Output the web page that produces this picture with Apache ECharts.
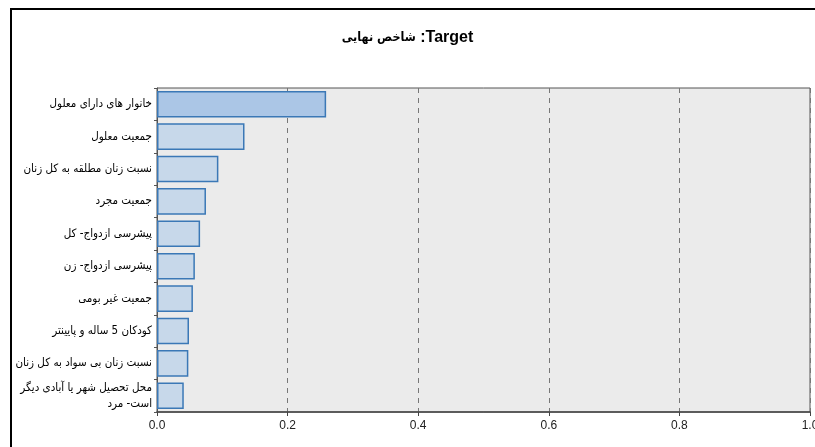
<!DOCTYPE html>
<html>
<head>
<meta charset="utf-8">
<script src="https://cdn.jsdelivr.net/npm/echarts@6/dist/echarts.min.js"></script>
<style>
html,body{margin:0;padding:0;background:#fff;overflow:hidden;}
#frame{position:absolute;left:10px;top:8px;width:805px;height:439px;border-top:2px solid #000;border-left:2px solid #000;box-sizing:border-box;}
#chart{position:absolute;left:0;top:0;width:815px;height:447px;}
</style>
</head>
<body>
<div id="frame"></div>
<div id="chart"></div>
<script>
const titleArabic = 'شاخص نهایی';
const titleLatin = 'Target';
const categories = [
  'خانوار های دارای معلول',
  'جمعیت معلول',
  'نسبت زنان مطلقه به کل زنان',
  'جمعیت مجرد',
  'پیشرسی ازدواج- کل',
  'پیشرسی ازدواج- زن',
  'جمعیت غیر بومی',
  'کودکان 5 ساله و پایینتر',
  'نسبت زنان بی سواد به کل زنان',
  'محل تحصیل شهر یا آبادی دیگر\nاست- مرد'
];
const importance = [0.259, 0.134, 0.094, 0.075, 0.066, 0.058, 0.055, 0.049, 0.048, 0.041];

const latinFont = {fontFamily: 'Liberation Sans, Arial', fontSize: 16, fontWeight: 'bold', color: '#000'};
const arabicFont = {fontFamily: 'DejaVu Sans Condensed, DejaVu Sans', fontSize: 12.5, fontWeight: 'bold', color: '#000'};
const chart = echarts.init(document.getElementById('chart'));
chart.setOption({
  animation: false,
  title: {
    text: '{a|' + titleArabic + '}{s| }{b|:}{b|' + titleLatin + '}',
    left: 'center',
    top: 25,
    textStyle: Object.assign({}, latinFont, {rich: {a: arabicFont, s: latinFont, b: latinFont}})
  },
  grid: {
    left: 157, right: 5, top: 88, bottom: 35,
    outerBoundsMode: 'none',
    containLabel: false,
    show: true, backgroundColor: '#ebebeb', borderColor: '#555', borderWidth: 1
  },
  xAxis: {
    type: 'value', min: 0, max: 1, interval: 0.2,
    axisLine: {show: true, lineStyle: {color: '#444', width: 1.5}},
    axisTick: {show: true, length: 4, lineStyle: {color: '#444'}},
    axisLabel: {
      color: '#222', fontSize: 12, margin: 8,
      fontFamily: 'Liberation Sans Narrow, Liberation Sans, Arial',
      formatter: v => v.toFixed(1)
    },
    splitLine: {show: true, lineStyle: {color: '#777', type: [5, 5], width: 1}}
  },
  yAxis: {
    type: 'category', data: categories, inverse: true,
    axisLine: {show: true, lineStyle: {color: '#555'}},
    axisTick: {show: true, length: 3, lineStyle: {color: '#555'}},
    axisLabel: {
      color: '#000', fontSize: 11.5, margin: 5, lineHeight: 16,
      fontFamily: 'DejaVu Sans Condensed, Noto Sans, Arial'
    }
  },
  series: [{
    type: 'bar',
    barCategoryGap: '18%',
    data: importance.map((v, i) => ({
      value: v,
      itemStyle: {color: i === 0 ? '#abc6e6' : '#c7d8ea'}
    })),
    itemStyle: {borderColor: '#3b78b6', borderWidth: 1.5}
  }]
});
</script>
</body>
</html>
